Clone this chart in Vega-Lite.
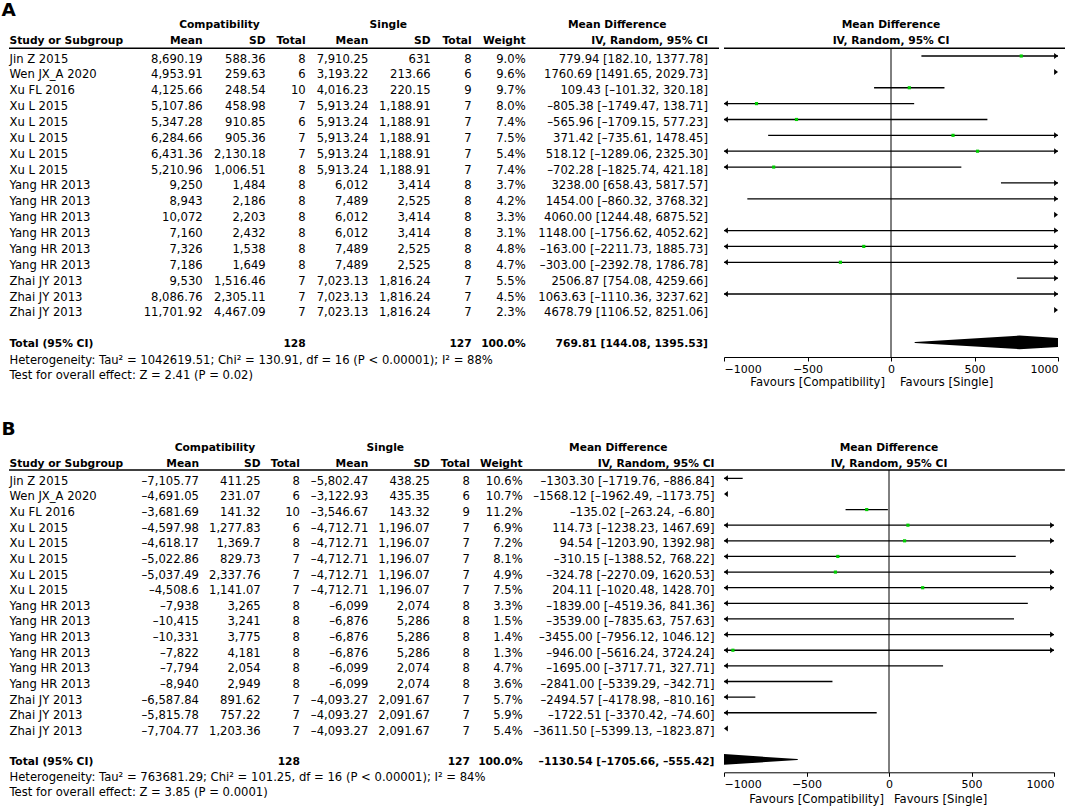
{
"$schema": "https://vega.github.io/schema/vega-lite/v6.json",
"padding": 0,
"background": "white",
"autosize": {"type": "pad"},
"columns": 2,
"align": "none",
"bounds": "flush",
"spacing": {"row": 62.3, "column": 0},
"resolve": {"scale": {"x": "independent", "y": "independent", "size": "independent"}, "axis": {"x": "independent", "y": "independent"}},
"datasets": {
"head": [{"panelA": "A", "panelB": "B", "compat": "Compatibility", "single": "Single", "mdh": "Mean Difference", "study": "Study or Subgroup", "mean": "Mean", "sd": "SD", "total": "Total", "weight": "Weight", "iv": "IV, Random, 95% CI", "favL": "Favours [Compatibility]", "favR": "Favours [Single]"}],
"aRows": [
{"id":1,"study":"Jin Z 2015","cm":"8,690.19","csd":"588.36","ct":"8","sm":"7,910.25","ssd":"631","st":"8","w":"9.0%","md":"779.94 [182.10, 1377.78]","est":779.94,"lo":182.10,"hi":1377.78},
{"id":2,"study":"Wen JX_A 2020","cm":"4,953.91","csd":"259.63","ct":"6","sm":"3,193.22","ssd":"213.66","st":"6","w":"9.6%","md":"1760.69 [1491.65, 2029.73]","est":1760.69,"lo":1491.65,"hi":2029.73},
{"id":3,"study":"Xu FL 2016","cm":"4,125.66","csd":"248.54","ct":"10","sm":"4,016.23","ssd":"220.15","st":"9","w":"9.7%","md":"109.43 [–101.32, 320.18]","est":109.43,"lo":-101.32,"hi":320.18},
{"id":4,"study":"Xu L 2015","cm":"5,107.86","csd":"458.98","ct":"7","sm":"5,913.24","ssd":"1,188.91","st":"7","w":"8.0%","md":"–805.38 [–1749.47, 138.71]","est":-805.38,"lo":-1749.47,"hi":138.71},
{"id":5,"study":"Xu L 2015","cm":"5,347.28","csd":"910.85","ct":"6","sm":"5,913.24","ssd":"1,188.91","st":"7","w":"7.4%","md":"–565.96 [–1709.15, 577.23]","est":-565.96,"lo":-1709.15,"hi":577.23},
{"id":6,"study":"Xu L 2015","cm":"6,284.66","csd":"905.36","ct":"7","sm":"5,913.24","ssd":"1,188.91","st":"7","w":"7.5%","md":"371.42 [–735.61, 1478.45]","est":371.42,"lo":-735.61,"hi":1478.45},
{"id":7,"study":"Xu L 2015","cm":"6,431.36","csd":"2,130.18","ct":"7","sm":"5,913.24","ssd":"1,188.91","st":"7","w":"5.4%","md":"518.12 [–1289.06, 2325.30]","est":518.12,"lo":-1289.06,"hi":2325.30},
{"id":8,"study":"Xu L 2015","cm":"5,210.96","csd":"1,006.51","ct":"8","sm":"5,913.24","ssd":"1,188.91","st":"7","w":"7.4%","md":"–702.28 [–1825.74, 421.18]","est":-702.28,"lo":-1825.74,"hi":421.18},
{"id":9,"study":"Yang HR 2013","cm":"9,250","csd":"1,484","ct":"8","sm":"6,012","ssd":"3,414","st":"8","w":"3.7%","md":"3238.00 [658.43, 5817.57]","est":3238.00,"lo":658.43,"hi":5817.57},
{"id":10,"study":"Yang HR 2013","cm":"8,943","csd":"2,186","ct":"8","sm":"7,489","ssd":"2,525","st":"8","w":"4.2%","md":"1454.00 [–860.32, 3768.32]","est":1454.00,"lo":-860.32,"hi":3768.32},
{"id":11,"study":"Yang HR 2013","cm":"10,072","csd":"2,203","ct":"8","sm":"6,012","ssd":"3,414","st":"8","w":"3.3%","md":"4060.00 [1244.48, 6875.52]","est":4060.00,"lo":1244.48,"hi":6875.52},
{"id":12,"study":"Yang HR 2013","cm":"7,160","csd":"2,432","ct":"8","sm":"6,012","ssd":"3,414","st":"8","w":"3.1%","md":"1148.00 [–1756.62, 4052.62]","est":1148.00,"lo":-1756.62,"hi":4052.62},
{"id":13,"study":"Yang HR 2013","cm":"7,326","csd":"1,538","ct":"8","sm":"7,489","ssd":"2,525","st":"8","w":"4.8%","md":"–163.00 [–2211.73, 1885.73]","est":-163.00,"lo":-2211.73,"hi":1885.73},
{"id":14,"study":"Yang HR 2013","cm":"7,186","csd":"1,649","ct":"8","sm":"7,489","ssd":"2,525","st":"8","w":"4.7%","md":"–303.00 [–2392.78, 1786.78]","est":-303.00,"lo":-2392.78,"hi":1786.78},
{"id":15,"study":"Zhai JY 2013","cm":"9,530","csd":"1,516.46","ct":"7","sm":"7,023.13","ssd":"1,816.24","st":"7","w":"5.5%","md":"2506.87 [754.08, 4259.66]","est":2506.87,"lo":754.08,"hi":4259.66},
{"id":16,"study":"Zhai JY 2013","cm":"8,086.76","csd":"2,305.11","ct":"7","sm":"7,023.13","ssd":"1,816.24","st":"7","w":"4.5%","md":"1063.63 [–1110.36, 3237.62]","est":1063.63,"lo":-1110.36,"hi":3237.62},
{"id":17,"study":"Zhai JY 2013","cm":"11,701.92","csd":"4,467.09","ct":"7","sm":"7,023.13","ssd":"1,816.24","st":"7","w":"2.3%","md":"4678.79 [1106.52, 8251.06]","est":4678.79,"lo":1106.52,"hi":8251.06}
],
"aTot": [{"label":"Total (95% CI)","ct":"128","st":"127","w":"100.0%","md":"769.81 [144.08, 1395.53]","est":769.81,"lo":144.08,"hi":1395.53,"het":"Heterogeneity: Tau² = 1042619.51; Chi² = 130.91, df = 16 (P < 0.00001); I² = 88%","test":"Test for overall effect: Z = 2.41 (P = 0.02)"}],
"bRows": [
{"id":1,"study":"Jin Z 2015","cm":"–7,105.77","csd":"411.25","ct":"8","sm":"–5,802.47","ssd":"438.25","st":"8","w":"10.6%","md":"–1303.30 [–1719.76, –886.84]","est":-1303.30,"lo":-1719.76,"hi":-886.84},
{"id":2,"study":"Wen JX_A 2020","cm":"–4,691.05","csd":"231.07","ct":"6","sm":"–3,122.93","ssd":"435.35","st":"6","w":"10.7%","md":"–1568.12 [–1962.49, –1173.75]","est":-1568.12,"lo":-1962.49,"hi":-1173.75},
{"id":3,"study":"Xu FL 2016","cm":"–3,681.69","csd":"141.32","ct":"10","sm":"–3,546.67","ssd":"143.32","st":"9","w":"11.2%","md":"–135.02 [–263.24, –6.80]","est":-135.02,"lo":-263.24,"hi":-6.80},
{"id":4,"study":"Xu L 2015","cm":"–4,597.98","csd":"1,277.83","ct":"6","sm":"–4,712.71","ssd":"1,196.07","st":"7","w":"6.9%","md":"114.73 [–1238.23, 1467.69]","est":114.73,"lo":-1238.23,"hi":1467.69},
{"id":5,"study":"Xu L 2015","cm":"–4,618.17","csd":"1,369.7","ct":"8","sm":"–4,712.71","ssd":"1,196.07","st":"7","w":"7.2%","md":"94.54 [–1203.90, 1392.98]","est":94.54,"lo":-1203.90,"hi":1392.98},
{"id":6,"study":"Xu L 2015","cm":"–5,022.86","csd":"829.73","ct":"7","sm":"–4,712.71","ssd":"1,196.07","st":"7","w":"8.1%","md":"–310.15 [–1388.52, 768.22]","est":-310.15,"lo":-1388.52,"hi":768.22},
{"id":7,"study":"Xu L 2015","cm":"–5,037.49","csd":"2,337.76","ct":"7","sm":"–4,712.71","ssd":"1,196.07","st":"7","w":"4.9%","md":"–324.78 [–2270.09, 1620.53]","est":-324.78,"lo":-2270.09,"hi":1620.53},
{"id":8,"study":"Xu L 2015","cm":"–4,508.6","csd":"1,141.07","ct":"7","sm":"–4,712.71","ssd":"1,196.07","st":"7","w":"7.5%","md":"204.11 [–1020.48, 1428.70]","est":204.11,"lo":-1020.48,"hi":1428.70},
{"id":9,"study":"Yang HR 2013","cm":"–7,938","csd":"3,265","ct":"8","sm":"–6,099","ssd":"2,074","st":"8","w":"3.3%","md":"–1839.00 [–4519.36, 841.36]","est":-1839.00,"lo":-4519.36,"hi":841.36},
{"id":10,"study":"Yang HR 2013","cm":"–10,415","csd":"3,241","ct":"8","sm":"–6,876","ssd":"5,286","st":"8","w":"1.5%","md":"–3539.00 [–7835.63, 757.63]","est":-3539.00,"lo":-7835.63,"hi":757.63},
{"id":11,"study":"Yang HR 2013","cm":"–10,331","csd":"3,775","ct":"8","sm":"–6,876","ssd":"5,286","st":"8","w":"1.4%","md":"–3455.00 [–7956.12, 1046.12]","est":-3455.00,"lo":-7956.12,"hi":1046.12},
{"id":12,"study":"Yang HR 2013","cm":"–7,822","csd":"4,181","ct":"8","sm":"–6,876","ssd":"5,286","st":"8","w":"1.3%","md":"–946.00 [–5616.24, 3724.24]","est":-946.00,"lo":-5616.24,"hi":3724.24},
{"id":13,"study":"Yang HR 2013","cm":"–7,794","csd":"2,054","ct":"8","sm":"–6,099","ssd":"2,074","st":"8","w":"4.7%","md":"–1695.00 [–3717.71, 327.71]","est":-1695.00,"lo":-3717.71,"hi":327.71},
{"id":14,"study":"Yang HR 2013","cm":"–8,940","csd":"2,949","ct":"8","sm":"–6,099","ssd":"2,074","st":"8","w":"3.6%","md":"–2841.00 [–5339.29, –342.71]","est":-2841.00,"lo":-5339.29,"hi":-342.71},
{"id":15,"study":"Zhai JY 2013","cm":"–6,587.84","csd":"891.62","ct":"7","sm":"–4,093.27","ssd":"2,091.67","st":"7","w":"5.7%","md":"–2494.57 [–4178.98, –810.16]","est":-2494.57,"lo":-4178.98,"hi":-810.16},
{"id":16,"study":"Zhai JY 2013","cm":"–5,815.78","csd":"757.22","ct":"7","sm":"–4,093.27","ssd":"2,091.67","st":"7","w":"5.9%","md":"–1722.51 [–3370.42, –74.60]","est":-1722.51,"lo":-3370.42,"hi":-74.60},
{"id":17,"study":"Zhai JY 2013","cm":"–7,704.77","csd":"1,203.36","ct":"7","sm":"–4,093.27","ssd":"2,091.67","st":"7","w":"5.4%","md":"–3611.50 [–5399.13, –1823.87]","est":-3611.50,"lo":-5399.13,"hi":-1823.87}
],
"bTot": [{"label":"Total (95% CI)","ct":"128","st":"127","w":"100.0%","md":"–1130.54 [–1705.66, –555.42]","est":-1130.54,"lo":-1705.66,"hi":-555.42,"het":"Heterogeneity: Tau² = 763681.29; Chi² = 101.25, df = 16 (P < 0.00001); I² = 84%","test":"Test for overall effect: Z = 3.85 (P = 0.0001)"}]
},
"concat": [
{
"width": 719, "height": 357,
"layer": [
{"data": {"name": "head"}, "mark": {"type": "text", "align": "left", "fontWeight": "bold", "fontSize": 18.5},
 "encoding": {"x": {"datum": 0, "type": "quantitative", "scale": {"domain": [0,1,2,3,4,5,6,7,8,9,10,11,12,13,14], "range": [1.5,9,9.5,202.7,219.5,265.7,305.7,368.3,388.3,430.7,471.7,525.7,617.2,708,719], "nice": false, "zero": false}, "axis": null},
  "y": {"datum": -2.13, "type": "quantitative", "scale": {"domain": [-2.53, 19.97], "reverse": true, "nice": false, "zero": false}, "axis": null}, "text": {"field": "panelA"}}},
{"data": {"name": "head"}, "mark": {"type": "text", "align": "center", "fontWeight": "bold", "fontSize": 10.7}, "encoding": {"x": {"datum": 4, "type": "quantitative", "axis": null}, "y": {"datum": -1.16, "type": "quantitative", "axis": null}, "text": {"field": "compat"}}},
{"data": {"name": "head"}, "mark": {"type": "text", "align": "center", "fontWeight": "bold", "fontSize": 10.7}, "encoding": {"x": {"datum": 8, "type": "quantitative", "axis": null}, "y": {"datum": -1.16, "type": "quantitative", "axis": null}, "text": {"field": "single"}}},
{"data": {"name": "head"}, "mark": {"type": "text", "align": "center", "fontWeight": "bold", "fontSize": 10.7}, "encoding": {"x": {"datum": 12, "type": "quantitative", "axis": null}, "y": {"datum": -1.16, "type": "quantitative", "axis": null}, "text": {"field": "mdh"}}},
{"data": {"name": "head"}, "mark": {"type": "text", "align": "left", "fontWeight": "bold", "fontSize": 10.7}, "encoding": {"x": {"datum": 2, "type": "quantitative", "axis": null}, "y": {"datum": -0.15, "type": "quantitative", "axis": null}, "text": {"field": "study"}}},
{"data": {"name": "head"}, "mark": {"type": "text", "align": "right", "fontWeight": "bold", "fontSize": 10.7}, "encoding": {"x": {"datum": 3, "type": "quantitative", "axis": null}, "y": {"datum": -0.15, "type": "quantitative", "axis": null}, "text": {"field": "mean"}}},
{"data": {"name": "head"}, "mark": {"type": "text", "align": "right", "fontWeight": "bold", "fontSize": 10.7}, "encoding": {"x": {"datum": 5, "type": "quantitative", "axis": null}, "y": {"datum": -0.15, "type": "quantitative", "axis": null}, "text": {"field": "sd"}}},
{"data": {"name": "head"}, "mark": {"type": "text", "align": "right", "fontWeight": "bold", "fontSize": 10.7}, "encoding": {"x": {"datum": 6, "type": "quantitative", "axis": null}, "y": {"datum": -0.15, "type": "quantitative", "axis": null}, "text": {"field": "total"}}},
{"data": {"name": "head"}, "mark": {"type": "text", "align": "right", "fontWeight": "bold", "fontSize": 10.7}, "encoding": {"x": {"datum": 7, "type": "quantitative", "axis": null}, "y": {"datum": -0.15, "type": "quantitative", "axis": null}, "text": {"field": "mean"}}},
{"data": {"name": "head"}, "mark": {"type": "text", "align": "right", "fontWeight": "bold", "fontSize": 10.7}, "encoding": {"x": {"datum": 9, "type": "quantitative", "axis": null}, "y": {"datum": -0.15, "type": "quantitative", "axis": null}, "text": {"field": "sd"}}},
{"data": {"name": "head"}, "mark": {"type": "text", "align": "right", "fontWeight": "bold", "fontSize": 10.7}, "encoding": {"x": {"datum": 10, "type": "quantitative", "axis": null}, "y": {"datum": -0.15, "type": "quantitative", "axis": null}, "text": {"field": "total"}}},
{"data": {"name": "head"}, "mark": {"type": "text", "align": "right", "fontWeight": "bold", "fontSize": 10.7}, "encoding": {"x": {"datum": 11, "type": "quantitative", "axis": null}, "y": {"datum": -0.15, "type": "quantitative", "axis": null}, "text": {"field": "weight"}}},
{"data": {"name": "head"}, "mark": {"type": "text", "align": "right", "fontWeight": "bold", "fontSize": 10.7}, "encoding": {"x": {"datum": 13, "type": "quantitative", "axis": null}, "y": {"datum": -0.15, "type": "quantitative", "axis": null}, "text": {"field": "iv"}}},
{"data": {"name": "head"}, "mark": {"type": "rule", "strokeWidth": 1.5}, "encoding": {"x": {"datum": 1, "type": "quantitative", "axis": null}, "x2": {"datum": 14}, "y": {"datum": 0.515, "type": "quantitative", "axis": null}}},
{"data": {"name": "aRows"}, "mark": {"type": "text", "align": "left"}, "encoding": {"x": {"datum": 2, "type": "quantitative", "axis": null}, "y": {"field": "id", "type": "quantitative", "axis": null}, "text": {"field": "study"}}},
{"data": {"name": "aRows"}, "mark": {"type": "text", "align": "right"}, "encoding": {"x": {"datum": 3, "type": "quantitative", "axis": null}, "y": {"field": "id", "type": "quantitative", "axis": null}, "text": {"field": "cm"}}},
{"data": {"name": "aRows"}, "mark": {"type": "text", "align": "right"}, "encoding": {"x": {"datum": 5, "type": "quantitative", "axis": null}, "y": {"field": "id", "type": "quantitative", "axis": null}, "text": {"field": "csd"}}},
{"data": {"name": "aRows"}, "mark": {"type": "text", "align": "right"}, "encoding": {"x": {"datum": 6, "type": "quantitative", "axis": null}, "y": {"field": "id", "type": "quantitative", "axis": null}, "text": {"field": "ct"}}},
{"data": {"name": "aRows"}, "mark": {"type": "text", "align": "right"}, "encoding": {"x": {"datum": 7, "type": "quantitative", "axis": null}, "y": {"field": "id", "type": "quantitative", "axis": null}, "text": {"field": "sm"}}},
{"data": {"name": "aRows"}, "mark": {"type": "text", "align": "right"}, "encoding": {"x": {"datum": 9, "type": "quantitative", "axis": null}, "y": {"field": "id", "type": "quantitative", "axis": null}, "text": {"field": "ssd"}}},
{"data": {"name": "aRows"}, "mark": {"type": "text", "align": "right"}, "encoding": {"x": {"datum": 10, "type": "quantitative", "axis": null}, "y": {"field": "id", "type": "quantitative", "axis": null}, "text": {"field": "st"}}},
{"data": {"name": "aRows"}, "mark": {"type": "text", "align": "right"}, "encoding": {"x": {"datum": 11, "type": "quantitative", "axis": null}, "y": {"field": "id", "type": "quantitative", "axis": null}, "text": {"field": "w"}}},
{"data": {"name": "aRows"}, "mark": {"type": "text", "align": "right"}, "encoding": {"x": {"datum": 13, "type": "quantitative", "axis": null}, "y": {"field": "id", "type": "quantitative", "axis": null}, "text": {"field": "md"}}},
{"data": {"name": "aTot"}, "mark": {"type": "text", "align": "left", "fontWeight": "bold", "fontSize": 10.7}, "encoding": {"x": {"datum": 2, "type": "quantitative", "axis": null}, "y": {"datum": 18.92, "type": "quantitative", "axis": null}, "text": {"field": "label"}}},
{"data": {"name": "aTot"}, "mark": {"type": "text", "align": "right", "fontWeight": "bold", "fontSize": 10.7}, "encoding": {"x": {"datum": 6, "type": "quantitative", "axis": null}, "y": {"datum": 18.92, "type": "quantitative", "axis": null}, "text": {"field": "ct"}}},
{"data": {"name": "aTot"}, "mark": {"type": "text", "align": "right", "fontWeight": "bold", "fontSize": 10.7}, "encoding": {"x": {"datum": 10, "type": "quantitative", "axis": null}, "y": {"datum": 18.92, "type": "quantitative", "axis": null}, "text": {"field": "st"}}},
{"data": {"name": "aTot"}, "mark": {"type": "text", "align": "right", "fontWeight": "bold", "fontSize": 10.7}, "encoding": {"x": {"datum": 11, "type": "quantitative", "axis": null}, "y": {"datum": 18.92, "type": "quantitative", "axis": null}, "text": {"field": "w"}}},
{"data": {"name": "aTot"}, "mark": {"type": "text", "align": "right", "fontWeight": "bold", "fontSize": 10.7}, "encoding": {"x": {"datum": 13, "type": "quantitative", "axis": null}, "y": {"datum": 18.92, "type": "quantitative", "axis": null}, "text": {"field": "md"}}},
{"data": {"name": "aTot"}, "mark": {"type": "text", "align": "left"}, "encoding": {"x": {"datum": 2, "type": "quantitative", "axis": null}, "y": {"datum": 20.01, "type": "quantitative", "axis": null}, "text": {"field": "het"}}},
{"data": {"name": "aTot"}, "mark": {"type": "text", "align": "left"}, "encoding": {"x": {"datum": 2, "type": "quantitative", "axis": null}, "y": {"datum": 20.97, "type": "quantitative", "axis": null}, "text": {"field": "test"}}}
]
},
{
"width": 334, "height": 357,
"layer": [
{"data": {"name": "aRows"}, "mark": {"type": "rule", "clip": true, "strokeWidth": 1.3},
 "encoding": {"x": {"field": "lo", "type": "quantitative", "scale": {"domain": [-1000, 1000], "nice": false, "zero": false}, "axis": {"values": [-1000, -500, 0, 500, 1000], "format": "d", "title": null, "labelFlush": true}},
  "x2": {"field": "hi"},
  "y": {"field": "id", "type": "quantitative", "scale": {"domain": [-2.53, 19.97], "reverse": true, "nice": false, "zero": false}, "axis": null}}},
{"data": {"name": "head"}, "mark": {"type": "text", "align": "center", "fontWeight": "bold", "fontSize": 10.7}, "encoding": {"x": {"datum": 0, "type": "quantitative", "axis": {"values": [-1000, -500, 0, 500, 1000], "format": "d", "title": null, "labelFlush": true}}, "y": {"datum": -1.16, "type": "quantitative", "axis": null}, "text": {"field": "mdh"}}},
{"data": {"name": "head"}, "mark": {"type": "text", "align": "center", "fontWeight": "bold", "fontSize": 10.7}, "encoding": {"x": {"datum": 0, "type": "quantitative", "axis": {"values": [-1000, -500, 0, 500, 1000], "format": "d", "title": null, "labelFlush": true}}, "y": {"datum": -0.15, "type": "quantitative", "axis": null}, "text": {"field": "iv"}}},
{"data": {"name": "head"}, "mark": {"type": "rule", "strokeWidth": 1.5}, "encoding": {"x": {"datum": -1000, "type": "quantitative", "axis": {"values": [-1000, -500, 0, 500, 1000], "format": "d", "title": null, "labelFlush": true}}, "x2": {"datum": 1071}, "y": {"datum": 0.515, "type": "quantitative", "axis": null}}},
{"data": {"name": "head"}, "mark": {"type": "rule", "strokeWidth": 1}, "encoding": {"x": {"datum": 0, "type": "quantitative", "axis": {"values": [-1000, -500, 0, 500, 1000], "format": "d", "title": null, "labelFlush": true}}, "x2": {"datum": 0}, "y": {"datum": 0.515, "type": "quantitative", "axis": null}, "y2": {"datum": 19.97}}},
{"data": {"name": "aRows"}, "transform": [{"filter": "datum.lo < -1000"}], "mark": {"type": "point", "shape": "M0,0L1.3,-1L1.3,1Z", "filled": true, "size": 36, "color": "black", "opacity": 1, "strokeWidth": 0}, "encoding": {"x": {"datum": -1000, "type": "quantitative", "axis": {"values": [-1000, -500, 0, 500, 1000], "format": "d", "title": null, "labelFlush": true}}, "y": {"field": "id", "type": "quantitative", "axis": null}}},
{"data": {"name": "aRows"}, "transform": [{"filter": "datum.hi > 1000"}], "mark": {"type": "point", "shape": "M0,0L-1.3,-1L-1.3,1Z", "filled": true, "size": 36, "color": "black", "opacity": 1, "strokeWidth": 0}, "encoding": {"x": {"datum": 1000, "type": "quantitative", "axis": {"values": [-1000, -500, 0, 500, 1000], "format": "d", "title": null, "labelFlush": true}}, "y": {"field": "id", "type": "quantitative", "axis": null}}},
{"data": {"name": "aRows"}, "mark": {"type": "point", "shape": "square", "filled": true, "size": 10, "color": "#00cc00", "opacity": 1, "clip": true}, "encoding": {"x": {"field": "est", "type": "quantitative", "axis": {"values": [-1000, -500, 0, 500, 1000], "format": "d", "title": null, "labelFlush": true}}, "y": {"field": "id", "type": "quantitative", "axis": null}}},
{"data": {"name": "aTot"}, "transform": [{"fold": ["lo", "est", "hi"], "as": ["k", "v"]}], "mark": {"type": "trail", "color": "black", "clip": true}, "encoding": {"x": {"field": "v", "type": "quantitative", "axis": {"values": [-1000, -500, 0, 500, 1000], "format": "d", "title": null, "labelFlush": true}}, "y": {"datum": 19.05, "type": "quantitative", "axis": null}, "size": {"field": "k", "type": "ordinal", "scale": {"type": "ordinal", "domain": ["lo", "est", "hi"], "range": [0, 13.6, 0]}, "legend": null}}},
{"data": {"name": "head"}, "mark": {"type": "text", "align": "right", "dx": -6}, "encoding": {"x": {"datum": 0, "type": "quantitative", "axis": {"values": [-1000, -500, 0, 500, 1000], "format": "d", "title": null, "labelFlush": true}}, "y": {"datum": 21.38, "type": "quantitative", "axis": null}, "text": {"field": "favL"}}},
{"data": {"name": "head"}, "mark": {"type": "text", "align": "left", "dx": 9}, "encoding": {"x": {"datum": 0, "type": "quantitative", "axis": {"values": [-1000, -500, 0, 500, 1000], "format": "d", "title": null, "labelFlush": true}}, "y": {"datum": 21.38, "type": "quantitative", "axis": null}, "text": {"field": "favR"}}}
]
},
{
"width": 724, "height": 353,
"layer": [
{"data": {"name": "head"}, "mark": {"type": "text", "align": "left", "fontWeight": "bold", "fontSize": 18.5},
 "encoding": {"x": {"datum": 0, "type": "quantitative", "scale": {"domain": [0,1,2,3,4,5,6,7,8,9,10,11,12,13,14], "range": [1.5,9,9.5,199,215,260.7,300,368.3,385.3,430,470,522.7,618.3,714.5,724], "nice": false, "zero": false}, "axis": null},
  "y": {"datum": -2.37, "type": "quantitative", "scale": {"domain": [-2.775, 19.81], "reverse": true, "nice": false, "zero": false}, "axis": null}, "text": {"field": "panelB"}}},
{"data": {"name": "head"}, "mark": {"type": "text", "align": "center", "fontWeight": "bold", "fontSize": 10.7}, "encoding": {"x": {"datum": 4, "type": "quantitative", "axis": null}, "y": {"datum": -1.17, "type": "quantitative", "axis": null}, "text": {"field": "compat"}}},
{"data": {"name": "head"}, "mark": {"type": "text", "align": "center", "fontWeight": "bold", "fontSize": 10.7}, "encoding": {"x": {"datum": 8, "type": "quantitative", "axis": null}, "y": {"datum": -1.17, "type": "quantitative", "axis": null}, "text": {"field": "single"}}},
{"data": {"name": "head"}, "mark": {"type": "text", "align": "center", "fontWeight": "bold", "fontSize": 10.7}, "encoding": {"x": {"datum": 12, "type": "quantitative", "axis": null}, "y": {"datum": -1.17, "type": "quantitative", "axis": null}, "text": {"field": "mdh"}}},
{"data": {"name": "head"}, "mark": {"type": "text", "align": "left", "fontWeight": "bold", "fontSize": 10.7}, "encoding": {"x": {"datum": 2, "type": "quantitative", "axis": null}, "y": {"datum": -0.17, "type": "quantitative", "axis": null}, "text": {"field": "study"}}},
{"data": {"name": "head"}, "mark": {"type": "text", "align": "right", "fontWeight": "bold", "fontSize": 10.7}, "encoding": {"x": {"datum": 3, "type": "quantitative", "axis": null}, "y": {"datum": -0.17, "type": "quantitative", "axis": null}, "text": {"field": "mean"}}},
{"data": {"name": "head"}, "mark": {"type": "text", "align": "right", "fontWeight": "bold", "fontSize": 10.7}, "encoding": {"x": {"datum": 5, "type": "quantitative", "axis": null}, "y": {"datum": -0.17, "type": "quantitative", "axis": null}, "text": {"field": "sd"}}},
{"data": {"name": "head"}, "mark": {"type": "text", "align": "right", "fontWeight": "bold", "fontSize": 10.7}, "encoding": {"x": {"datum": 6, "type": "quantitative", "axis": null}, "y": {"datum": -0.17, "type": "quantitative", "axis": null}, "text": {"field": "total"}}},
{"data": {"name": "head"}, "mark": {"type": "text", "align": "right", "fontWeight": "bold", "fontSize": 10.7}, "encoding": {"x": {"datum": 7, "type": "quantitative", "axis": null}, "y": {"datum": -0.17, "type": "quantitative", "axis": null}, "text": {"field": "mean"}}},
{"data": {"name": "head"}, "mark": {"type": "text", "align": "right", "fontWeight": "bold", "fontSize": 10.7}, "encoding": {"x": {"datum": 9, "type": "quantitative", "axis": null}, "y": {"datum": -0.17, "type": "quantitative", "axis": null}, "text": {"field": "sd"}}},
{"data": {"name": "head"}, "mark": {"type": "text", "align": "right", "fontWeight": "bold", "fontSize": 10.7}, "encoding": {"x": {"datum": 10, "type": "quantitative", "axis": null}, "y": {"datum": -0.17, "type": "quantitative", "axis": null}, "text": {"field": "total"}}},
{"data": {"name": "head"}, "mark": {"type": "text", "align": "right", "fontWeight": "bold", "fontSize": 10.7}, "encoding": {"x": {"datum": 11, "type": "quantitative", "axis": null}, "y": {"datum": -0.17, "type": "quantitative", "axis": null}, "text": {"field": "weight"}}},
{"data": {"name": "head"}, "mark": {"type": "text", "align": "right", "fontWeight": "bold", "fontSize": 10.7}, "encoding": {"x": {"datum": 13, "type": "quantitative", "axis": null}, "y": {"datum": -0.17, "type": "quantitative", "axis": null}, "text": {"field": "iv"}}},
{"data": {"name": "head"}, "mark": {"type": "rule", "strokeWidth": 1.5}, "encoding": {"x": {"datum": 1, "type": "quantitative", "axis": null}, "x2": {"datum": 14}, "y": {"datum": 0.47, "type": "quantitative", "axis": null}}},
{"data": {"name": "bRows"}, "mark": {"type": "text", "align": "left"}, "encoding": {"x": {"datum": 2, "type": "quantitative", "axis": null}, "y": {"field": "id", "type": "quantitative", "axis": null}, "text": {"field": "study"}}},
{"data": {"name": "bRows"}, "mark": {"type": "text", "align": "right"}, "encoding": {"x": {"datum": 3, "type": "quantitative", "axis": null}, "y": {"field": "id", "type": "quantitative", "axis": null}, "text": {"field": "cm"}}},
{"data": {"name": "bRows"}, "mark": {"type": "text", "align": "right"}, "encoding": {"x": {"datum": 5, "type": "quantitative", "axis": null}, "y": {"field": "id", "type": "quantitative", "axis": null}, "text": {"field": "csd"}}},
{"data": {"name": "bRows"}, "mark": {"type": "text", "align": "right"}, "encoding": {"x": {"datum": 6, "type": "quantitative", "axis": null}, "y": {"field": "id", "type": "quantitative", "axis": null}, "text": {"field": "ct"}}},
{"data": {"name": "bRows"}, "mark": {"type": "text", "align": "right"}, "encoding": {"x": {"datum": 7, "type": "quantitative", "axis": null}, "y": {"field": "id", "type": "quantitative", "axis": null}, "text": {"field": "sm"}}},
{"data": {"name": "bRows"}, "mark": {"type": "text", "align": "right"}, "encoding": {"x": {"datum": 9, "type": "quantitative", "axis": null}, "y": {"field": "id", "type": "quantitative", "axis": null}, "text": {"field": "ssd"}}},
{"data": {"name": "bRows"}, "mark": {"type": "text", "align": "right"}, "encoding": {"x": {"datum": 10, "type": "quantitative", "axis": null}, "y": {"field": "id", "type": "quantitative", "axis": null}, "text": {"field": "st"}}},
{"data": {"name": "bRows"}, "mark": {"type": "text", "align": "right"}, "encoding": {"x": {"datum": 11, "type": "quantitative", "axis": null}, "y": {"field": "id", "type": "quantitative", "axis": null}, "text": {"field": "w"}}},
{"data": {"name": "bRows"}, "mark": {"type": "text", "align": "right"}, "encoding": {"x": {"datum": 13, "type": "quantitative", "axis": null}, "y": {"field": "id", "type": "quantitative", "axis": null}, "text": {"field": "md"}}},
{"data": {"name": "bTot"}, "mark": {"type": "text", "align": "left", "fontWeight": "bold", "fontSize": 10.7}, "encoding": {"x": {"datum": 2, "type": "quantitative", "axis": null}, "y": {"datum": 18.92, "type": "quantitative", "axis": null}, "text": {"field": "label"}}},
{"data": {"name": "bTot"}, "mark": {"type": "text", "align": "right", "fontWeight": "bold", "fontSize": 10.7}, "encoding": {"x": {"datum": 6, "type": "quantitative", "axis": null}, "y": {"datum": 18.92, "type": "quantitative", "axis": null}, "text": {"field": "ct"}}},
{"data": {"name": "bTot"}, "mark": {"type": "text", "align": "right", "fontWeight": "bold", "fontSize": 10.7}, "encoding": {"x": {"datum": 10, "type": "quantitative", "axis": null}, "y": {"datum": 18.92, "type": "quantitative", "axis": null}, "text": {"field": "st"}}},
{"data": {"name": "bTot"}, "mark": {"type": "text", "align": "right", "fontWeight": "bold", "fontSize": 10.7}, "encoding": {"x": {"datum": 11, "type": "quantitative", "axis": null}, "y": {"datum": 18.92, "type": "quantitative", "axis": null}, "text": {"field": "w"}}},
{"data": {"name": "bTot"}, "mark": {"type": "text", "align": "right", "fontWeight": "bold", "fontSize": 10.7}, "encoding": {"x": {"datum": 13, "type": "quantitative", "axis": null}, "y": {"datum": 18.92, "type": "quantitative", "axis": null}, "text": {"field": "md"}}},
{"data": {"name": "bTot"}, "mark": {"type": "text", "align": "left"}, "encoding": {"x": {"datum": 2, "type": "quantitative", "axis": null}, "y": {"datum": 19.94, "type": "quantitative", "axis": null}, "text": {"field": "het"}}},
{"data": {"name": "bTot"}, "mark": {"type": "text", "align": "left"}, "encoding": {"x": {"datum": 2, "type": "quantitative", "axis": null}, "y": {"datum": 20.9, "type": "quantitative", "axis": null}, "text": {"field": "test"}}}
]
},
{
"width": 330, "height": 353,
"layer": [
{"data": {"name": "bRows"}, "mark": {"type": "rule", "clip": true, "strokeWidth": 1.3},
 "encoding": {"x": {"field": "lo", "type": "quantitative", "scale": {"domain": [-1000, 1000], "nice": false, "zero": false}, "axis": {"values": [-1000, -500, 0, 500, 1000], "format": "d", "title": null, "labelFlush": true}},
  "x2": {"field": "hi"},
  "y": {"field": "id", "type": "quantitative", "scale": {"domain": [-2.775, 19.81], "reverse": true, "nice": false, "zero": false}, "axis": null}}},
{"data": {"name": "head"}, "mark": {"type": "text", "align": "center", "fontWeight": "bold", "fontSize": 10.7}, "encoding": {"x": {"datum": 0, "type": "quantitative", "axis": {"values": [-1000, -500, 0, 500, 1000], "format": "d", "title": null, "labelFlush": true}}, "y": {"datum": -1.17, "type": "quantitative", "axis": null}, "text": {"field": "mdh"}}},
{"data": {"name": "head"}, "mark": {"type": "text", "align": "center", "fontWeight": "bold", "fontSize": 10.7}, "encoding": {"x": {"datum": 0, "type": "quantitative", "axis": {"values": [-1000, -500, 0, 500, 1000], "format": "d", "title": null, "labelFlush": true}}, "y": {"datum": -0.17, "type": "quantitative", "axis": null}, "text": {"field": "iv"}}},
{"data": {"name": "head"}, "mark": {"type": "rule", "strokeWidth": 1.5}, "encoding": {"x": {"datum": -1000, "type": "quantitative", "axis": {"values": [-1000, -500, 0, 500, 1000], "format": "d", "title": null, "labelFlush": true}}, "x2": {"datum": 1066}, "y": {"datum": 0.47, "type": "quantitative", "axis": null}}},
{"data": {"name": "head"}, "mark": {"type": "rule", "strokeWidth": 1}, "encoding": {"x": {"datum": 0, "type": "quantitative", "axis": {"values": [-1000, -500, 0, 500, 1000], "format": "d", "title": null, "labelFlush": true}}, "x2": {"datum": 0}, "y": {"datum": 0.47, "type": "quantitative", "axis": null}, "y2": {"datum": 19.81}}},
{"data": {"name": "bRows"}, "transform": [{"filter": "datum.lo < -1000"}], "mark": {"type": "point", "shape": "M0,0L1.3,-1L1.3,1Z", "filled": true, "size": 36, "color": "black", "opacity": 1, "strokeWidth": 0}, "encoding": {"x": {"datum": -1000, "type": "quantitative", "axis": {"values": [-1000, -500, 0, 500, 1000], "format": "d", "title": null, "labelFlush": true}}, "y": {"field": "id", "type": "quantitative", "axis": null}}},
{"data": {"name": "bRows"}, "transform": [{"filter": "datum.hi > 1000"}], "mark": {"type": "point", "shape": "M0,0L-1.3,-1L-1.3,1Z", "filled": true, "size": 36, "color": "black", "opacity": 1, "strokeWidth": 0}, "encoding": {"x": {"datum": 1000, "type": "quantitative", "axis": {"values": [-1000, -500, 0, 500, 1000], "format": "d", "title": null, "labelFlush": true}}, "y": {"field": "id", "type": "quantitative", "axis": null}}},
{"data": {"name": "bRows"}, "mark": {"type": "point", "shape": "square", "filled": true, "size": 10, "color": "#00cc00", "opacity": 1, "clip": true}, "encoding": {"x": {"field": "est", "type": "quantitative", "axis": {"values": [-1000, -500, 0, 500, 1000], "format": "d", "title": null, "labelFlush": true}}, "y": {"field": "id", "type": "quantitative", "axis": null}}},
{"data": {"name": "bTot"}, "transform": [{"fold": ["lo", "est", "hi"], "as": ["k", "v"]}], "mark": {"type": "trail", "color": "black", "clip": true}, "encoding": {"x": {"field": "v", "type": "quantitative", "axis": {"values": [-1000, -500, 0, 500, 1000], "format": "d", "title": null, "labelFlush": true}}, "y": {"datum": 18.99, "type": "quantitative", "axis": null}, "size": {"field": "k", "type": "ordinal", "scale": {"type": "ordinal", "domain": ["lo", "est", "hi"], "range": [0, 13.6, 0]}, "legend": null}}},
{"data": {"name": "head"}, "mark": {"type": "text", "align": "right", "dx": -5}, "encoding": {"x": {"datum": 0, "type": "quantitative", "axis": {"values": [-1000, -500, 0, 500, 1000], "format": "d", "title": null, "labelFlush": true}}, "y": {"datum": 21.37, "type": "quantitative", "axis": null}, "text": {"field": "favL"}}},
{"data": {"name": "head"}, "mark": {"type": "text", "align": "left", "dx": 5}, "encoding": {"x": {"datum": 0, "type": "quantitative", "axis": {"values": [-1000, -500, 0, 500, 1000], "format": "d", "title": null, "labelFlush": true}}, "y": {"datum": 21.37, "type": "quantitative", "axis": null}, "text": {"field": "favR"}}}
]
}
],
"config": {
"view": {"stroke": null},
"font": "DejaVu Sans",
"text": {"font": "DejaVu Sans", "fontSize": 11.6, "dy": 3.5, "color": "black"},
"rule": {"color": "black"},
"axis": {"labelFont": "DejaVu Sans", "labelFontSize": 11, "labelColor": "black", "domainColor": "black", "domainWidth": 1, "tickColor": "black", "tickWidth": 1, "tickSize": 4, "labelPadding": 2.3, "grid": false}
}
}
